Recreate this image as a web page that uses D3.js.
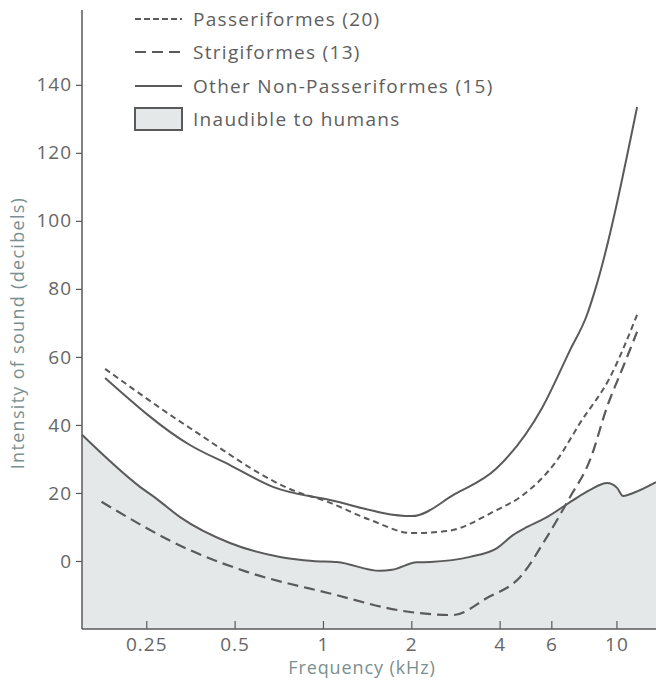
<!DOCTYPE html>
<html>
<head>
<meta charset="utf-8">
<script src="https://cdn.jsdelivr.net/npm/d3@7"></script>
<style>
  html, body { margin: 0; padding: 0; background: #fff; }
  svg { display: block; }
  text { font-family: "Open Sans", "Noto Sans", sans-serif; }
</style>
</head>
<body>
<svg id="chart" width="656" height="683"></svg>
<script>
// ---- Data (frequency in kHz, intensity in dB) ----
const xTicks = [0.25, 0.5, 1, 2, 4, 6, 10];
const xTickLabels = ["0.25", "0.5", "1", "2", "4", "6", "10"];
const yTicks = [0, 20, 40, 60, 80, 100, 120, 140];

const otherFreq = [0.181, 0.352, 0.482, 0.675, 1.056, 2.01, 2.82, 3.89, 5.58, 6.95, 7.94, 8.46, 11.76];
const otherDb   = [53.8, 34.1, 28.2, 21.8, 17.9, 13.2, 19.7, 27.1, 45.0, 62.0, 72.4, 79.7, 133.5];

const passFreq = [0.181, 0.352, 0.835, 1.0, 1.446, 2.01, 2.65, 3.89, 4.70, 6.28, 7.52, 9.52, 11.76];
const passDb   = [56.5, 39.1, 20.0, 17.9, 12.1, 8.2, 8.8, 14.9, 18.8, 29.7, 40.6, 54.1, 72.4];

const strigFreq = [0.176, 0.352, 0.551, 1.04, 1.98, 2.77, 3.62, 4.70, 5.80, 6.95, 8.13, 9.29, 10.54, 11.76];
const strigDb   = [17.4, 3.2, -3.2, -9.4, -15.0, -15.9, -10.9, -4.7, 7.1, 18.8, 29.7, 45.3, 57.1, 67.4];

const humanFreq = [0.151, 0.238, 0.272, 0.326, 0.482, 0.714, 0.924, 1.116, 1.565, 1.72, 2.09, 2.32, 3.17, 3.92, 4.44, 4.96, 5.80, 7.12, 8.13, 9.29, 10.05, 10.54, 11.40, 13.64];
const humanDb   = [37.1, 21.8, 18.2, 12.9, 5.3, 1.2, 0.0, -0.3, -2.9, -2.6, -0.4, -0.3, 1.2, 3.8, 7.6, 10.0, 12.9, 17.9, 20.9, 22.9, 21.5, 19.1, 20.0, 23.2];

const legendLabels = ["Passeriformes (20)", "Strigiformes (13)", "Other Non-Passeriformes (15)", "Inaudible to humans"];

// ---- Layout ----
const svg = d3.select("#chart");
const mLeft = 82, mRight = 656, mTop = 10, mBottom = 629;
const lineColor = "#5a5a5a";
const textColor = "#666666";
const titleColor = "#7a8f8f";
const fillColor = "#e5e8e8";

const x = d3.scaleLog().domain([0.151, 13.64]).range([mLeft, mRight]);
const y = d3.scaleLinear().domain([-20, 162]).range([mBottom, mTop]);

const zip = (fs, ds) => fs.map((f, i) => ({f, d: ds[i]}));
const curve = d3.curveMonotoneX;

// Fill: inaudible region
const area = d3.area()
  .x(p => x(p.f)).y0(y(-20)).y1(p => y(p.d))
  .curve(curve);
svg.append("path").datum(zip(humanFreq, humanDb))
  .attr("d", area).attr("fill", fillColor);

const line = d3.line().x(p => x(p.f)).y(p => y(p.d)).curve(curve);

svg.append("path").datum(zip(humanFreq, humanDb)).attr("d", line)
  .attr("fill", "none").attr("stroke", lineColor).attr("stroke-width", 2);

svg.append("path").datum(zip(otherFreq, otherDb)).attr("d", line)
  .attr("fill", "none").attr("stroke", lineColor).attr("stroke-width", 2);

svg.append("path").datum(zip(passFreq, passDb)).attr("d", line)
  .attr("fill", "none").attr("stroke", lineColor).attr("stroke-width", 2)
  .attr("stroke-dasharray", "6,4");

svg.append("path").datum(zip(strigFreq, strigDb)).attr("d", line)
  .attr("fill", "none").attr("stroke", lineColor).attr("stroke-width", 2.2)
  .attr("stroke-dasharray", "11,6");

// ---- Axes ----
const yAxis = d3.axisLeft(y).tickValues(yTicks).tickSize(6).tickPadding(4);
const gy = svg.append("g").attr("transform", `translate(${mLeft},0)`).call(yAxis);
gy.select(".domain").remove();
gy.selectAll(".tick line").attr("stroke", lineColor).attr("stroke-width", 1.2);
gy.selectAll(".tick text").attr("fill", textColor).attr("font-size", 19)
  .attr("letter-spacing", "1px").attr("font-family", "Open Sans");

const xAxis = d3.axisBottom(x).tickValues(xTicks).tickFormat((d, i) => xTickLabels[i])
  .tickSize(0).tickPadding(0);
const gx = svg.append("g").attr("transform", `translate(0,${mBottom})`).call(xAxis);
gx.select(".domain").remove();
gx.selectAll(".tick text").attr("fill", textColor).attr("font-size", 19)
  .attr("letter-spacing", "1px").attr("y", 22).attr("dy", 0);
gx.selectAll(".tick").append("line")
  .attr("y1", 0).attr("y2", -8).attr("stroke", lineColor).attr("stroke-width", 1.2);

// axis lines
svg.append("line").attr("x1", mLeft).attr("x2", mLeft).attr("y1", mTop).attr("y2", mBottom)
  .attr("stroke", lineColor).attr("stroke-width", 1.5);
svg.append("line").attr("x1", mLeft).attr("x2", mRight).attr("y1", mBottom).attr("y2", mBottom)
  .attr("stroke", lineColor).attr("stroke-width", 1.5);

// axis titles
svg.append("text").attr("transform", `translate(24,333) rotate(-90)`)
  .attr("text-anchor", "middle").attr("fill", titleColor).attr("font-size", 18)
  .attr("letter-spacing", "1.3px")
  .text("Intensity of sound (decibels)");
svg.append("text").attr("x", 362).attr("y", 674)
  .attr("text-anchor", "middle").attr("fill", titleColor).attr("font-size", 18)
  .attr("letter-spacing", "0.9px")
  .text("Frequency (kHz)");

// ---- Legend ----
const lg = svg.append("g");
const ly = [19, 52, 86, 119];
const lx0 = 135, lx1 = 182, tx = 193;
lg.append("line").attr("x1", lx0).attr("x2", lx1).attr("y1", ly[0]).attr("y2", ly[0])
  .attr("stroke", lineColor).attr("stroke-width", 2).attr("stroke-dasharray", "6,3");
lg.append("line").attr("x1", lx0).attr("x2", lx1).attr("y1", ly[1]).attr("y2", ly[1])
  .attr("stroke", lineColor).attr("stroke-width", 2).attr("stroke-dasharray", "11,6");
lg.append("line").attr("x1", lx0).attr("x2", lx1).attr("y1", ly[2]).attr("y2", ly[2])
  .attr("stroke", lineColor).attr("stroke-width", 2);
lg.append("rect").attr("x", lx0).attr("y", ly[3] - 11).attr("width", lx1 - lx0).attr("height", 22)
  .attr("fill", fillColor).attr("stroke", lineColor).attr("stroke-width", 2);
legendLabels.forEach((t, i) => {
  lg.append("text").attr("x", tx).attr("y", ly[i]).attr("dy", "0.35em")
    .attr("fill", "#5e5e5e").attr("font-size", 19).attr("letter-spacing", "1.3px").text(t);
});
</script>
</body>
</html>
